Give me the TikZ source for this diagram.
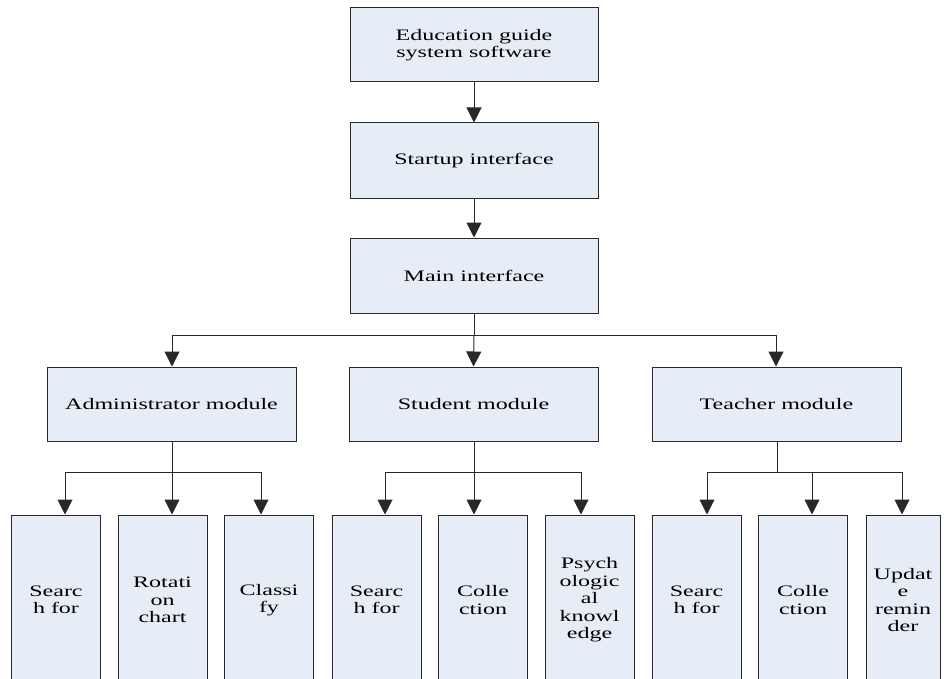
\documentclass[tikz,border=0pt]{standalone}
\usepackage{fontspec}
\setmainfont{Liberation Serif}[FakeStretch=1.5]
\usetikzlibrary{arrows.meta}
\definecolor{boxfill}{RGB}{231,237,247}
\definecolor{boxline}{RGB}{40,40,40}
\begin{document}
\begin{tikzpicture}[x=1pt,y=-1pt,
  box/.style={draw=boxline,line width=1pt,fill=boxfill,rectangle,inner sep=0pt,
    align=center,font=\fontsize{16}{17.5}\selectfont},
  bigbox/.style={box,minimum width=248pt,minimum height=74pt},
  modbox/.style={box,minimum width=249pt,minimum height=74pt},
  leafbox/.style={box,minimum width=89pt,minimum height=170pt},
  arr/.style={line width=1pt,draw=boxline,-{Triangle[length=15pt,width=15pt]}},
  ln/.style={line width=1pt,draw=boxline}]
\useasboundingbox[fill=white] (0,0) rectangle (944,679);
\begin{scope}
\clip (0,0) rectangle (944,679);
% main stack
\node[bigbox] (top) at (474,45) {Education guide\\system software};
\node[bigbox,minimum height=75pt] (start) at (474,160.5) {Startup interface};
\node[bigbox,minimum height=75pt] (main) at (474,275.5) {Main interface};
% modules
\node[modbox] (adm) at (171.5,404) {Administrator module};
\node[modbox] (stu) at (473.5,404) {Student module};
\node[modbox] (tea) at (776.5,404) {Teacher module};
% leaves
\node[leafbox] (a1) at (56,600) {Searc\\h for};
\node[leafbox] (a2) at (162.5,600) {Rotati\\on\\chart};
\node[leafbox] (a3) at (269,600) {Classi\\fy};
\node[leafbox] (s1) at (376.5,600) {Searc\\h for};
\node[leafbox] (s2) at (483,600) {Colle\\ction};
\node[leafbox] (s3) at (589.5,600) {Psych\\ologic\\al\\knowl\\edge};
\node[leafbox] (t1) at (696.5,600) {Searc\\h for};
\node[leafbox] (t2) at (803,600) {Colle\\ction};
\node[leafbox,minimum width=74pt] (t3) at (903,600) {Updat\\e\\remin\\der};
% junction coordinates
\coordinate (jm) at (474,335);
\coordinate (ja) at (172,472);
\coordinate (js) at (474,472);
\coordinate (jt) at (777,472);
\coordinate (xa1) at (65,472);
\coordinate (xa2) at (172,472);
\coordinate (xa3) at (261,472);
\coordinate (xs1) at (385,472);
\coordinate (xs2) at (474,472);
\coordinate (xs3) at (581,472);
\coordinate (xt1) at (707,472);
\coordinate (xt2) at (812,472);
\coordinate (xt3) at (902,472);
\coordinate (xm1) at (172,335);
\coordinate (xm3) at (776,335);
% connectors main stack
\draw[arr] (top.south) -- (start.north);
\draw[arr] (start.south) -- (main.north);
\draw[ln] (main.south) -- (jm);
\draw[ln] (xm1) -- (xm3);
\draw[arr] (xm1) -- (xm1 |- adm.north);
\draw[arr] (jm) -- (stu.north);
\draw[arr] (xm3) -- (xm3 |- tea.north);
% admin leaves
\draw[ln] (adm.south -| ja) -- (ja);
\draw[ln] (xa1) -- (xa3);
\draw[arr] (xa1) -- (xa1 |- a1.north);
\draw[arr] (xa2) -- (xa2 |- a2.north);
\draw[arr] (xa3) -- (xa3 |- a3.north);
% student leaves
\draw[ln] (stu.south -| js) -- (js);
\draw[ln] (xs1) -- (xs3);
\draw[arr] (xs1) -- (xs1 |- s1.north);
\draw[arr] (xs2) -- (xs2 |- s2.north);
\draw[arr] (xs3) -- (xs3 |- s3.north);
% teacher leaves
\draw[ln] (tea.south -| jt) -- (jt);
\draw[ln] (xt1) -- (xt3);
\draw[arr] (xt1) -- (xt1 |- t1.north);
\draw[arr] (xt2) -- (xt2 |- t2.north);
\draw[arr] (xt3) -- (xt3 |- t3.north);
\end{scope}
\end{tikzpicture}
\end{document}
